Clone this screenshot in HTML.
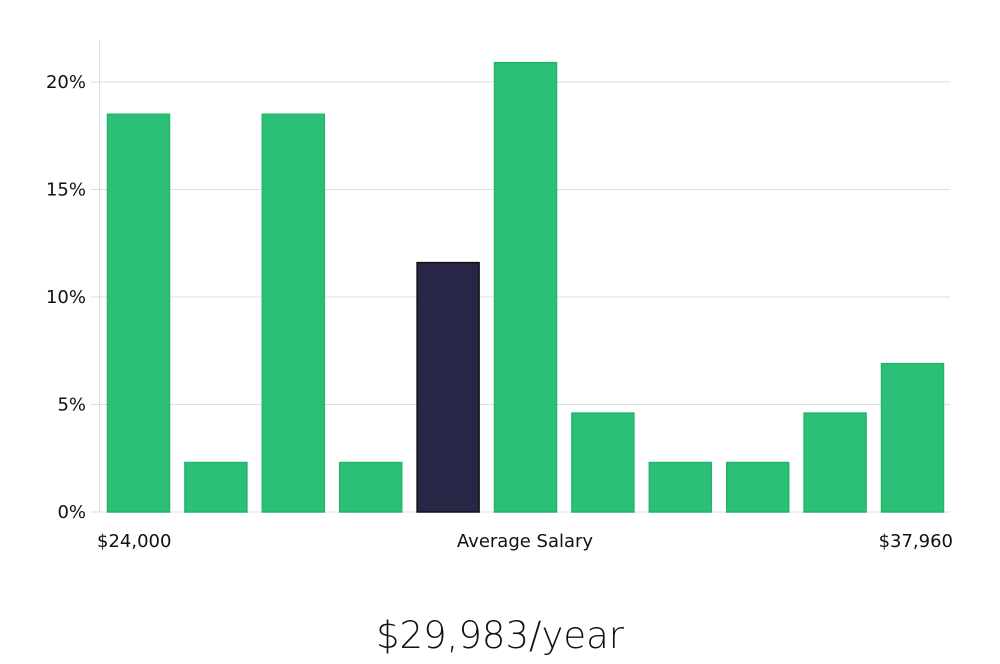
<!DOCTYPE html>
<html><head><meta charset="utf-8"><style>
body{margin:0;background:#fff;width:1000px;height:660px;overflow:hidden;font-family:"DejaVu Sans","Liberation Sans",sans-serif}
svg text{font-family:"DejaVu Sans","Liberation Sans",sans-serif}
</style></head><body>
<svg id="chart" width="1000" height="660" viewBox="0 0 1000 660" xmlns="http://www.w3.org/2000/svg">
<g id="grid"></g><g id="bars"></g>
<text x="97" y="547" font-size="18" fill="#111">$24,000</text>
<text x="525" y="547" font-size="18" fill="#111" text-anchor="middle">Average Salary</text>
<text x="953" y="547" font-size="18" fill="#111" text-anchor="end">$37,960</text>
<text x="500" y="648" font-size="37" fill="#111" text-anchor="middle" font-family="Liberation Sans, sans-serif" font-weight="300">$29,983/year</text>
</svg>
<script>
const values=[18.5,2.3,18.5,2.3,11.6,20.9,4.6,2.3,2.3,4.6,6.9];
const highlight=[false,false,false,false,true,false,false,false,false,false,false];
const ticks=[0,5,10,15,20];
const tickLabels=["0%","5%","10%","15%","20%"];
const NS="http://www.w3.org/2000/svg";
const y=v=>512-v*21.5;
const x=i=>107+i*77.4;
const grid=document.getElementById('grid'),bars=document.getElementById('bars');
function mk(t,a,p){const e=document.createElementNS(NS,t);for(const k in a)e.setAttribute(k,a[k]);p.appendChild(e);return e;}
ticks.forEach((t,i)=>{
 const l=mk('line',{x1:91,x2:950,y1:y(t),y2:y(t),stroke:'#dddddd','stroke-width':1},grid);
 
 
 const tx=mk('text',{x:86,y:y(t)+6,'font-size':18,fill:'#111','text-anchor':'end'},grid);
 tx.textContent=tickLabels[i];
 
 
});
const ax=mk('line',{x1:99.5,x2:99.5,y1:40,y2:512,stroke:'#dddddd','stroke-width':1},grid);


values.forEach((v,i)=>{
 const r=mk('rect',{x:x(i)+0.5,y:y(v),width:62,height:512-y(v),fill:highlight[i]?'#282646':'#2cbf78',stroke:highlight[i]?'#111':'#22b56c','stroke-width':1.5},bars);
 
 
});
</script>
</body></html>
